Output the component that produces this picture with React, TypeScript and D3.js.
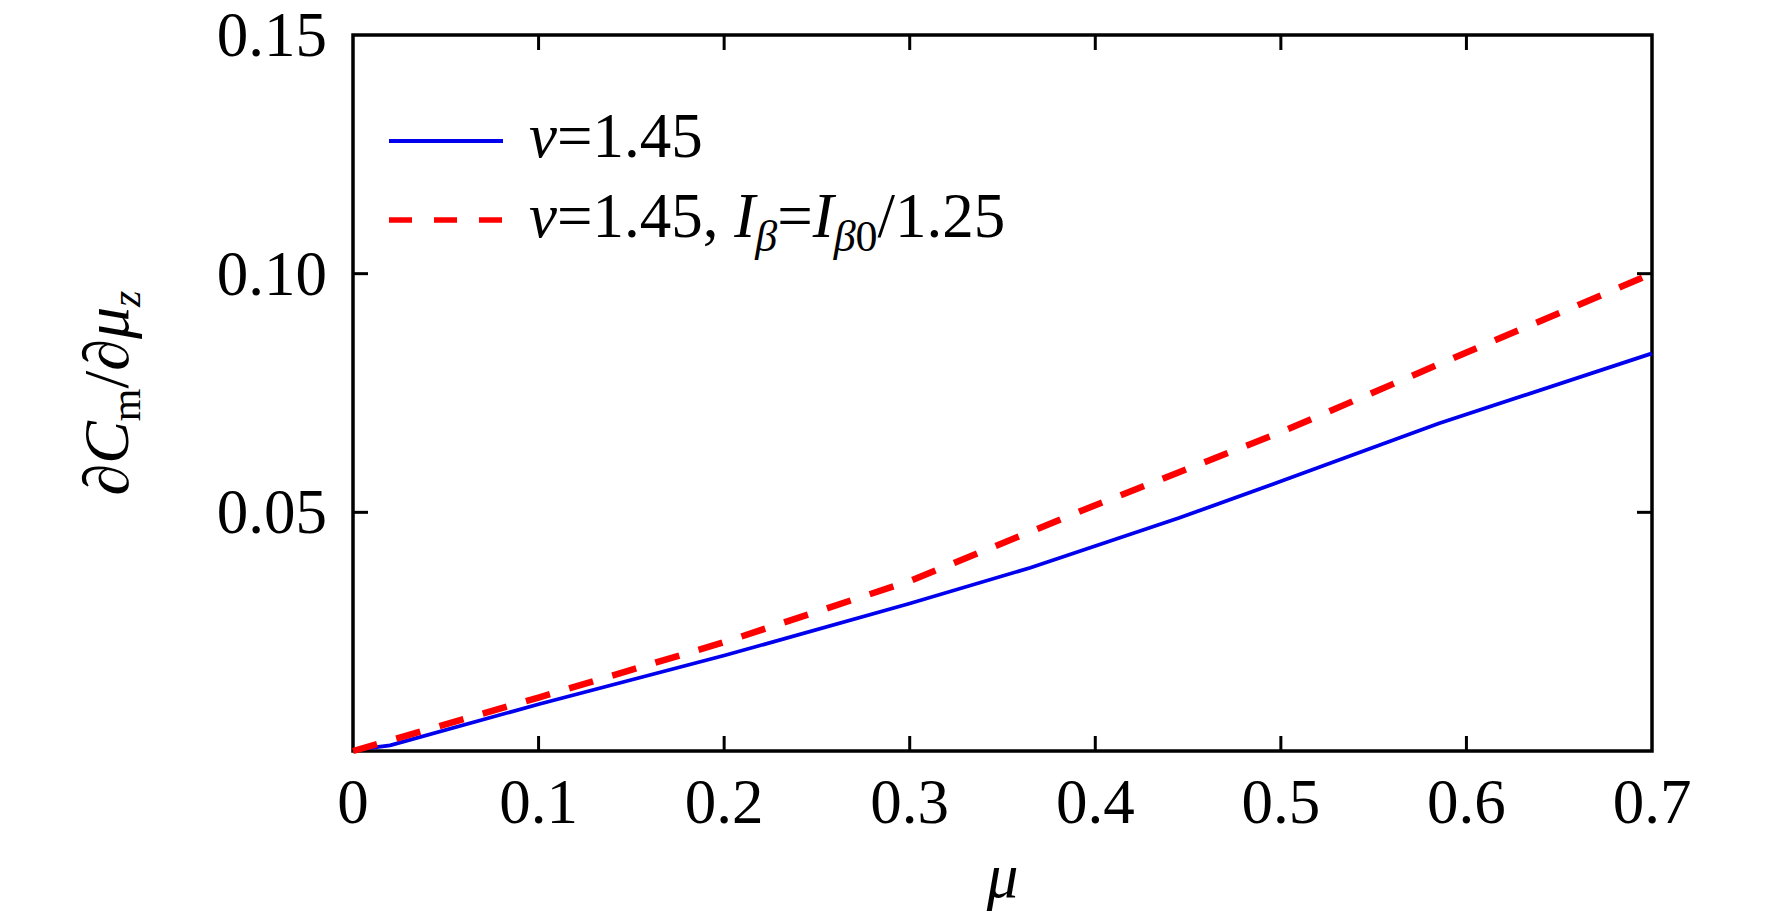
import React, { useEffect, useRef } from 'react'
import * as d3 from 'd3'

// μ samples and ∂Cm/∂μz values
const muBlue = [0, 0.02, 0.1, 0.2, 0.3, 0.365, 0.445, 0.5, 0.585, 0.7]
const cmBlue = [0.0002, 0.0012, 0.0098, 0.02, 0.0309, 0.0384, 0.0488, 0.0565, 0.0686, 0.0833]
const muRed = [0, 0.1, 0.2, 0.3, 0.4, 0.5, 0.6, 0.7]
const cmRed = [0, 0.0112, 0.0228, 0.0356, 0.0515, 0.0668, 0.0835, 0.1]

const xTicks = [0, 0.1, 0.2, 0.3, 0.4, 0.5, 0.6, 0.7]
const xTickLabels = ['0', '0.1', '0.2', '0.3', '0.4', '0.5', '0.6', '0.7']
const yTicks = [0.05, 0.1, 0.15]
const yTickLabels = ['0.05', '0.10', '0.15']

const W = 1772
const H = 918
const FONT = '"Liberation Serif", "Times New Roman", serif'

const App = () => {
  const svgRef = useRef<SVGSVGElement>(null)

  useEffect(() => {
    const svg = d3.select(svgRef.current)
    svg.selectAll('*').remove()

    const left = 353, right = 1652, top = 35, bottom = 751
    const x = d3.scaleLinear([0, 0.7], [left, right])
    const y = d3.scaleLinear([0, 0.15], [bottom, top])
    const tickLen = 15

    const g = svg.append('g')

    // frame
    g.append('rect')
      .attr('x', left).attr('y', top)
      .attr('width', right - left).attr('height', bottom - top)
      .attr('fill', 'none').attr('stroke', '#000').attr('stroke-width', 3.5)

    // inward ticks on all four sides
    xTicks.filter(t => t > 0 && t < 0.7).forEach(t => {
      g.append('line').attr('x1', x(t)).attr('x2', x(t)).attr('y1', bottom).attr('y2', bottom - tickLen)
        .attr('stroke', '#000').attr('stroke-width', 3)
      g.append('line').attr('x1', x(t)).attr('x2', x(t)).attr('y1', top).attr('y2', top + tickLen)
        .attr('stroke', '#000').attr('stroke-width', 3)
    })
    yTicks.filter(t => t < 0.15).forEach(t => {
      g.append('line').attr('x1', left).attr('x2', left + tickLen).attr('y1', y(t)).attr('y2', y(t))
        .attr('stroke', '#000').attr('stroke-width', 3)
      g.append('line').attr('x1', right).attr('x2', right - tickLen).attr('y1', y(t)).attr('y2', y(t))
        .attr('stroke', '#000').attr('stroke-width', 3)
    })

    // tick labels
    xTicks.forEach((t, i) => {
      g.append('text').attr('x', x(t)).attr('y', 823)
        .attr('text-anchor', 'middle').attr('font-family', FONT).attr('font-size', 63)
        .text(xTickLabels[i])
    })
    yTicks.forEach((t, i) => {
      g.append('text').attr('x', left - 26).attr('y', y(t) + 21)
        .attr('text-anchor', 'end').attr('font-family', FONT).attr('font-size', 63)
        .text(yTickLabels[i])
    })

    // axis titles
    g.append('text').attr('x', (left + right) / 2).attr('y', 897)
      .attr('text-anchor', 'middle').attr('font-family', FONT).attr('font-size', 63)
      .attr('font-style', 'italic').text('μ')

    const yl = g.append('text')
      .attr('transform', `translate(128,${(top + bottom) / 2}) rotate(-90)`)
      .attr('text-anchor', 'middle').attr('font-family', FONT).attr('font-size', 64)
    yl.append('tspan').text('∂')
    yl.append('tspan').attr('font-style', 'italic').text('C')
    yl.append('tspan').attr('font-size', 42).attr('dy', 12).text('m')
    yl.append('tspan').attr('dy', -12).text('/∂')
    yl.append('tspan').attr('font-style', 'italic').text('μ')
    yl.append('tspan').attr('font-style', 'italic').attr('font-size', 42).attr('dy', 12).text('z')

    // curves
    const line = d3.line<[number, number]>().x(d => x(d[0])).y(d => y(d[1]))
    const blue = muBlue.map((m, i) => [m, cmBlue[i]] as [number, number])
    const red = muRed.map((m, i) => [m, cmRed[i]] as [number, number])

    g.append('path').attr('d', line(blue)).attr('fill', 'none')
      .attr('stroke', '#0000ee').attr('stroke-width', 3.8)
    g.append('path').attr('d', line(red)).attr('fill', 'none')
      .attr('stroke', '#ff0000').attr('stroke-width', 6.5).attr('stroke-dasharray', '25,20')

    // legend
    const lx0 = 389, lx1 = 503, tx = 529
    g.append('line').attr('x1', lx0).attr('x2', lx1).attr('y1', 141).attr('y2', 141)
      .attr('stroke', '#0000ee').attr('stroke-width', 4)
    g.append('line').attr('x1', lx0).attr('x2', lx1).attr('y1', 220).attr('y2', 220)
      .attr('stroke', '#ff0000').attr('stroke-width', 5.5).attr('stroke-dasharray', '23,22')

    const t1 = g.append('text').attr('x', tx).attr('y', 157)
      .attr('font-family', FONT).attr('font-size', 63)
    t1.append('tspan').attr('font-style', 'italic').text('v')
    t1.append('tspan').text('=1.45')

    const t2 = g.append('text').attr('x', tx).attr('y', 237)
      .attr('font-family', FONT).attr('font-size', 63)
    t2.append('tspan').attr('font-style', 'italic').text('v')
    t2.append('tspan').text('=1.45, ')
    t2.append('tspan').attr('font-style', 'italic').text('I')
    t2.append('tspan').attr('font-style', 'italic').attr('font-size', 44).attr('dy', 14).text('β')
    t2.append('tspan').attr('dy', -14).text('=')
    t2.append('tspan').attr('font-style', 'italic').text('I')
    t2.append('tspan').attr('font-style', 'italic').attr('font-size', 44).attr('dy', 14).text('β')
    t2.append('tspan').attr('font-size', 44).text('0')
    t2.append('tspan').attr('dy', -14).text('/1.25')
  }, [])

  return (
    <svg ref={svgRef} width={W} height={H}
      style={{ position: 'absolute', left: 0, top: 0, background: '#fff' }} />
  )
}

export default App
